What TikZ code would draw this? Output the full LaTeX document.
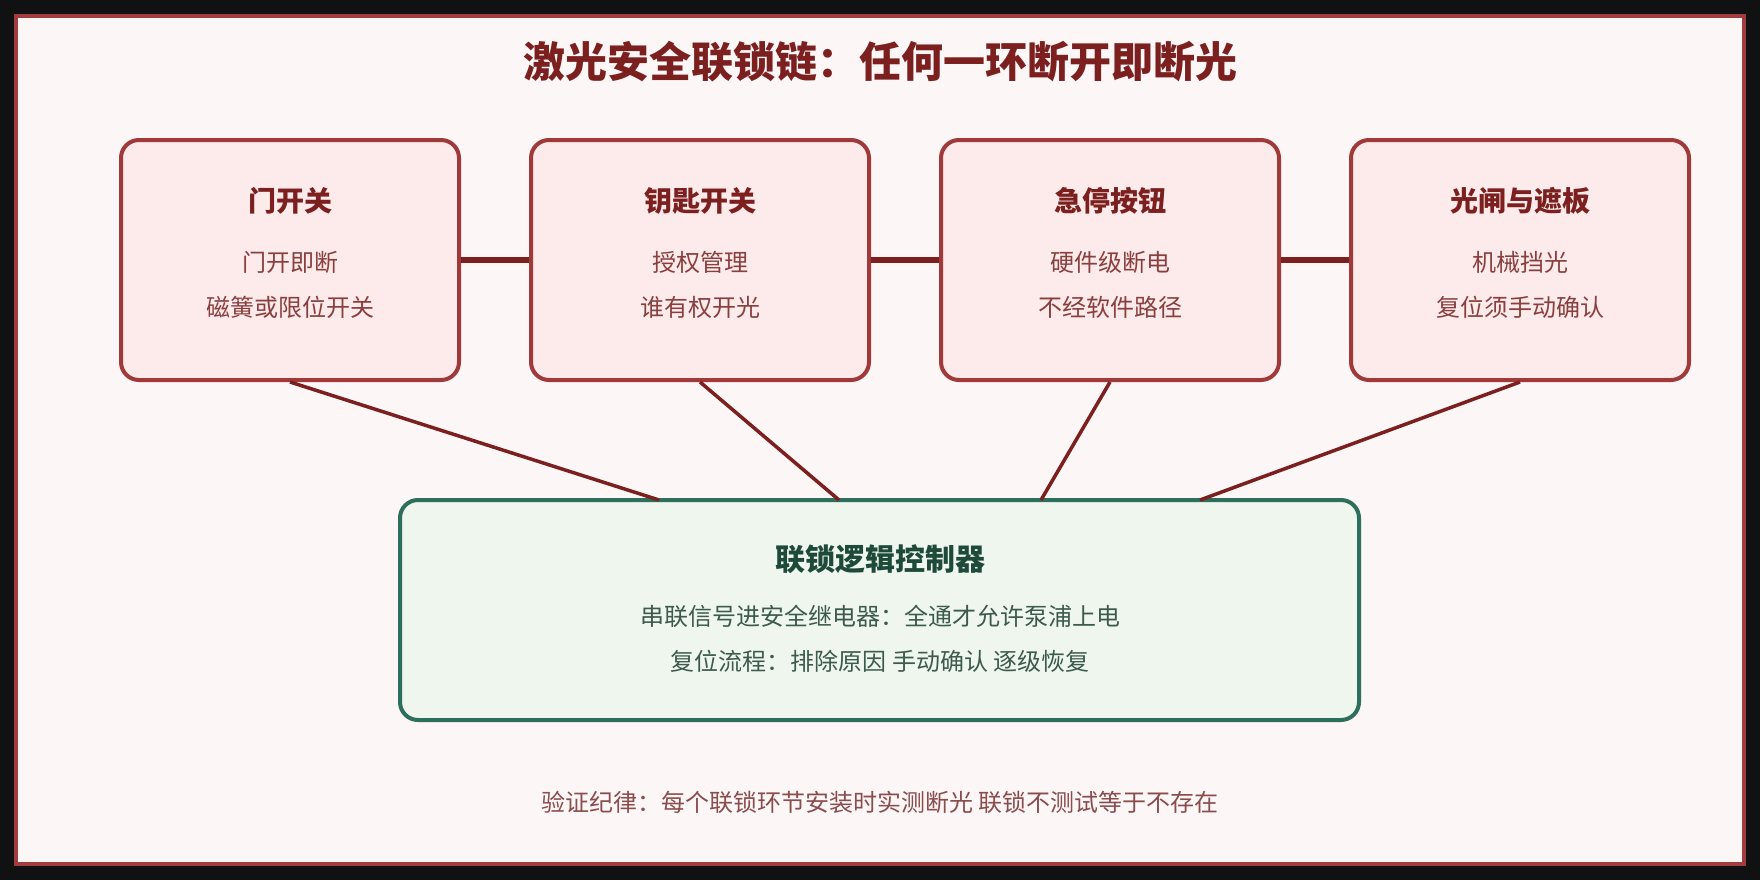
\documentclass[tikz,border=0pt]{standalone}
\usepackage{fontspec}
\setmainfont{Noto Sans CJK SC}
\definecolor{pagebg}{HTML}{111111}
\definecolor{canvas}{HTML}{FCF6F6}
\definecolor{framec}{HTML}{A23B3B}
\definecolor{boxfill}{HTML}{FDEAEA}
\definecolor{boxline}{HTML}{A03A3A}
\definecolor{linkc}{HTML}{7B1F1F}
\definecolor{titlec}{HTML}{7B1F1F}
\definecolor{subc}{HTML}{8A3F3F}
\definecolor{ctrlline}{HTML}{2E6E5C}
\definecolor{ctrlfill}{HTML}{EFF6ED}
\definecolor{ctrltitle}{HTML}{1E4A3B}
\definecolor{ctrltext}{HTML}{3D5A4D}
\definecolor{footc}{HTML}{8A4C4C}
\tikzset{
  devbox/.style={draw=boxline, fill=boxfill, line width=4pt, rounded corners=18pt,
    minimum width=338pt, minimum height=240pt, inner sep=0pt},
  ctrlbox/.style={draw=ctrlline, fill=ctrlfill, line width=4pt, rounded corners=18pt,
    minimum width=959pt, minimum height=220pt, inner sep=0pt},
  maintitle/.style={text=titlec, font=\fontsize{42}{50}\selectfont\bfseries, inner sep=0pt},
  boxtitle/.style={text=titlec, font=\fontsize{28}{34}\selectfont\bfseries, inner sep=0pt},
  boxtext/.style={text=subc, font=\fontsize{24}{29}\selectfont, inner sep=0pt},
  ctrltitlestyle/.style={text=ctrltitle, font=\fontsize{30}{36}\selectfont\bfseries, inner sep=0pt},
  ctrltextstyle/.style={text=ctrltext, font=\fontsize{24}{29}\selectfont, inner sep=0pt},
  foottext/.style={text=footc, font=\fontsize{24}{29}\selectfont, inner sep=0pt},
  chainlink/.style={draw=linkc, line width=6pt},
  feedlink/.style={draw=linkc, line width=3.5pt},
}
\begin{document}
\begin{tikzpicture}[x=1pt, y=-1pt]
  \fill[pagebg] (0,0) rectangle (1760,880);
  \draw[framec, line width=4pt, fill=canvas] (16,16) rectangle (1744,864);

  \node[maintitle] (title) at (880,62) {激光安全联锁链：任何一环断开即断光};

  % interlock devices
  \node[devbox] (b1) at (290,260) {};
  \node[devbox] (b2) at (700,260) {};
  \node[devbox] (b3) at (1110,260) {};
  \node[devbox] (b4) at (1520,260) {};

  \node[boxtitle] (t1) at (290,201) {门开关};
  \node[boxtext] (s1a) at (290,262) {门开即断};
  \node[boxtext] (s1b) at (290,307) {磁簧或限位开关};

  \node[boxtitle] (t2) at (700,201) {钥匙开关};
  \node[boxtext] (s2a) at (700,262) {授权管理};
  \node[boxtext] (s2b) at (700,307) {谁有权开光};

  \node[boxtitle] (t3) at (1110,201) {急停按钮};
  \node[boxtext] (s3a) at (1110,262) {硬件级断电};
  \node[boxtext] (s3b) at (1110,307) {不经软件路径};

  \node[boxtitle] (t4) at (1520,201) {光闸与遮板};
  \node[boxtext] (s4a) at (1520,262) {机械挡光};
  \node[boxtext] (s4b) at (1520,307) {复位须手动确认};

  % controller
  \node[ctrlbox] (ctrl) at (879.5,610) {};
  \node[ctrltitlestyle] (ct) at (880,559) {联锁逻辑控制器};
  \node[ctrltextstyle] (c1) at (880,616) {串联信号进安全继电器：全通才允许泵浦上电};
  \node[ctrltextstyle] (c2) at (880,661.5) {复位流程：排除原因 手动确认 逐级恢复};

  \coordinate (k1) at (659,500);
  \coordinate (k2) at (839,500);
  \coordinate (k3) at (1041,500);
  \coordinate (k4) at (1200,500);

  % series chain
  \draw[chainlink] (b1.east) -- (b2.west);
  \draw[chainlink] (b2.east) -- (b3.west);
  \draw[chainlink] (b3.east) -- (b4.west);

  % feeds to controller
  \draw[feedlink] (b1.south) -- (k1);
  \draw[feedlink] (b2.south) -- (k2);
  \draw[feedlink] (b3.south) -- (k3);
  \draw[feedlink] (b4.south) -- (k4);

  \node[foottext] (foot) at (880,802.5) {验证纪律：每个联锁环节安装时实测断光 联锁不测试等于不存在};
\end{tikzpicture}
\end{document}
